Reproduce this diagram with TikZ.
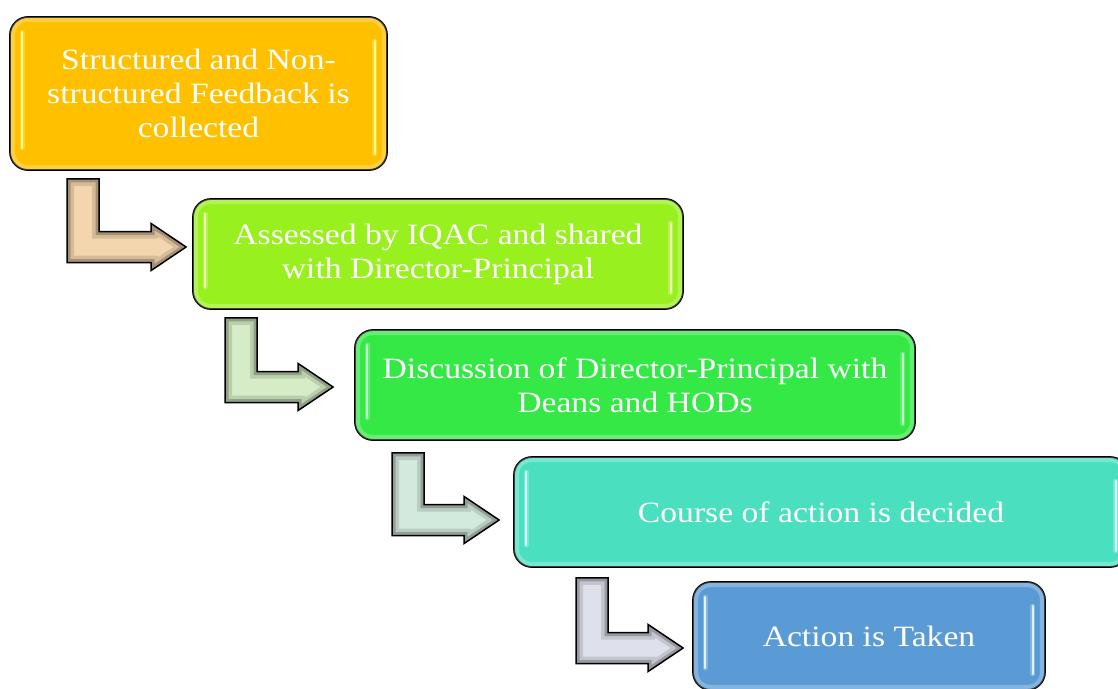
\documentclass[tikz,border=0pt]{standalone}
\usepackage{fontspec}
\setmainfont[FakeStretch=1.14]{Liberation Serif}
\usetikzlibrary{calc}
\definecolor{cA}{HTML}{FFC000}
\definecolor{cB}{HTML}{99F01F}
\definecolor{cC}{HTML}{34E846}
\definecolor{cD}{HTML}{4ADFBF}
\definecolor{cE}{HTML}{5B9BD5}
\definecolor{gA}{HTML}{FFFF90}
\definecolor{gB}{HTML}{F0FFB8}
\definecolor{gC}{HTML}{C8FFD0}
\definecolor{gD}{HTML}{D8FFFF}
\definecolor{gE}{HTML}{E0F4FF}
\definecolor{aA}{HTML}{F4D6AE}
\definecolor{aB}{HTML}{D6ECC6}
\definecolor{aC}{HTML}{D2E9DD}
\definecolor{aD}{HTML}{DEE1EB}
\tikzset{
  box/.style={draw=black, line width=1.8pt, rounded corners=18pt, text=white,
    align=center, inner sep=0pt, font=\fontsize{29.5}{34}\selectfont},
  glossline/.style={line width=2.6pt, line cap=round},
  glowline/.style={line width=5pt, line cap=round, opacity=.3},
}
\newcommand\apath[3]{#1 let \p1=(#2),\p2=(#3) in
  (\x1,\y1) -- (\x1+32pt,\y1) -- (\x1+32pt,\y2+15.5pt) -- (\x2-35pt,\y2+15.5pt)
  -- (\x2-35pt,\y2+23.5pt) -- (\x2,\y2) -- (\x2-35pt,\y2-23.5pt)
  -- (\x2-35pt,\y2-15.5pt) -- (\x1,\y2-15.5pt) -- cycle;}
\newcommand\barrow[3]{%
  \begin{scope}
    \apath{\clip}{#1}{#2}
    \apath{\fill[#3]}{#1}{#2}
    \apath{\draw[black, opacity=.12, line width=14pt, line join=miter]}{#1}{#2}
    \apath{\draw[black, opacity=.22, line width=7pt, line join=miter]}{#1}{#2}
  \end{scope}
  \apath{\draw[black, line width=1.5pt, line join=miter]}{#1}{#2}
}
\newcommand\gloss[2]{%
  \draw[glowline, #2] ($(#1.north west)+(13,16)$) -- ($(#1.south west)+(13,-23)$);
  \draw[glowline, #2] ($(#1.north east)+(-13,25)$) -- ($(#1.south east)+(-13,-17)$);
  \draw[glossline, #2] ($(#1.north west)+(13,16)$) -- ($(#1.south west)+(13,-23)$);
  \draw[glossline, #2] ($(#1.north east)+(-13,25)$) -- ($(#1.south east)+(-13,-17)$);
  \draw[white, opacity=.25, line width=5pt, rounded corners=15pt]
    ($(#1.north west)+(3.5,3.5)$) rectangle ($(#1.south east)+(-3.5,-3.5)$);
}
\begin{document}
\begin{tikzpicture}[x=1pt, y=-1pt]
\useasboundingbox (0,0) rectangle (1118,688);

\node[box, fill=cA, minimum width=377, minimum height=153] (b1) at (198.5,93.5)
  {Structured and Non-\\structured Feedback is\\collected};
\node[box, fill=cB, minimum width=490, minimum height=110] (b2) at (438,254)
  {Assessed by IQAC and shared\\with Director-Principal};
\node[box, fill=cC, minimum width=560, minimum height=110] (b3) at (635,385)
  {Discussion of Director-Principal with\\Deans and HODs};
\node[box, fill=cD, minimum width=614, minimum height=110] (b4) at (821,512)
  {Course of action is decided};
\node[box, fill=cE, minimum width=352, minimum height=108] (b5) at (869,636)
  {Action is Taken};

\gloss{b1}{gA}
\gloss{b2}{gB}
\gloss{b3}{gC}
\gloss{b4}{gD}
\gloss{b5}{gE}

\coordinate (a1s) at ($(b1.south west)+(58,8)$);
\coordinate (a1t) at ($(b2.west)+(-6,-7)$);
\coordinate (a2s) at ($(b2.south west)+(33,8)$);
\coordinate (a2t) at ($(b3.west)+(-21,2)$);
\coordinate (a3s) at ($(b3.south west)+(38,12)$);
\coordinate (a3t) at ($(b4.west)+(-14,8)$);
\coordinate (a4s) at ($(b4.south west)+(63,10)$);
\coordinate (a4t) at ($(b5.west)+(-9,12)$);

\barrow{a1s}{a1t}{aA}
\barrow{a2s}{a2t}{aB}
\barrow{a3s}{a3t}{aC}
\barrow{a4s}{a4t}{aD}
\end{tikzpicture}
\end{document}
